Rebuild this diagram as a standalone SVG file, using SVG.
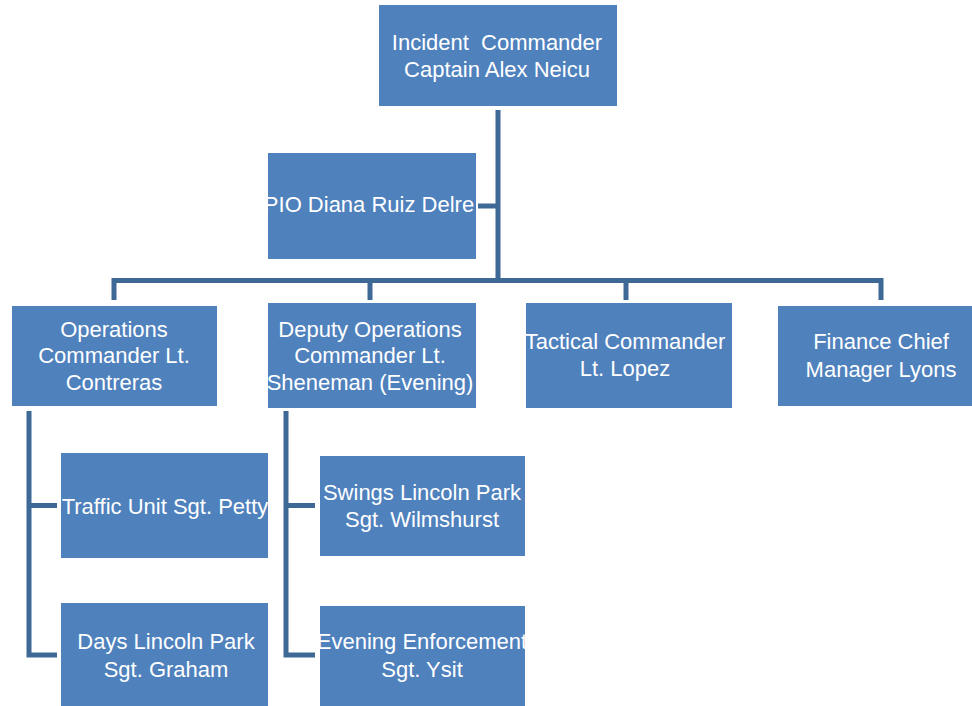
<svg xmlns="http://www.w3.org/2000/svg" width="972" height="706" viewBox="0 0 972 706">
<style>
.box{fill:#4F81BD;}
.t{font-family:"Liberation Sans",Arial,sans-serif;font-size:22px;fill:#FFFFFF;text-anchor:middle;}
.c{fill:none;stroke:#3E6896;stroke-width:5;stroke-linejoin:miter;stroke-linecap:butt;}
</style>
<rect width="972" height="706" fill="#FFFFFF"/>
<g id="connectors">
<path class="c" d="M498,110 V283"/>
<path class="c" d="M478,206 H498"/>
<path class="c" d="M114,300 V280.5 H881 V300"/>
<path class="c" d="M370,280.5 V300"/>
<path class="c" d="M626,280.5 V300"/>
<path class="c" d="M29,411 V655 H57"/>
<path class="c" d="M29,505.5 H57"/>
<path class="c" d="M286,411 V655 H315"/>
<path class="c" d="M286,505.5 H315"/>
</g>
<g id="incident-commander">
<rect class="box" x="379" y="5" width="238" height="101"/>
<text class="t" x="497" y="50">Incident&#160; Commander</text>
<text class="t" x="497" y="77">Captain Alex Neicu</text>
</g>
<g id="pio">
<rect class="box" x="268" y="153" width="208" height="106"/>
<text class="t" x="369" y="212">PIO Diana Ruiz Delre</text>
</g>
<g id="operations">
<rect class="box" x="12" y="306" width="205" height="100"/>
<text class="t" x="114" y="337">Operations</text>
<text class="t" x="114" y="363">Commander Lt.</text>
<text class="t" x="114" y="390">Contreras</text>
</g>
<g id="deputy-operations">
<rect class="box" x="268" y="303" width="208" height="105"/>
<text class="t" x="370" y="337">Deputy Operations</text>
<text class="t" x="370" y="363">Commander Lt.</text>
<text class="t" x="370" y="390">Sheneman (Evening)</text>
</g>
<g id="tactical">
<rect class="box" x="526" y="303" width="206" height="105"/>
<text class="t" x="625" y="349">Tactical Commander</text>
<text class="t" x="625" y="376">Lt. Lopez</text>
</g>
<g id="finance">
<rect class="box" x="778" y="306" width="194" height="100"/>
<text class="t" x="881" y="349">Finance Chief</text>
<text class="t" x="881" y="377">Manager Lyons</text>
</g>
<g id="traffic">
<rect class="box" x="61" y="453" width="207" height="105"/>
<text class="t" x="165" y="514">Traffic Unit Sgt. Petty</text>
</g>
<g id="days">
<rect class="box" x="61" y="603" width="207" height="103"/>
<text class="t" x="166" y="649">Days Lincoln Park</text>
<text class="t" x="166" y="677">Sgt. Graham</text>
</g>
<g id="swings">
<rect class="box" x="320" y="456" width="205" height="100"/>
<text class="t" x="422" y="500">Swings Lincoln Park</text>
<text class="t" x="422" y="527">Sgt. Wilmshurst</text>
</g>
<g id="evening">
<rect class="box" x="320" y="606" width="205" height="100"/>
<text class="t" x="422" y="649">Evening Enforcement</text>
<text class="t" x="422" y="677">Sgt. Ysit</text>
</g>
</svg>
